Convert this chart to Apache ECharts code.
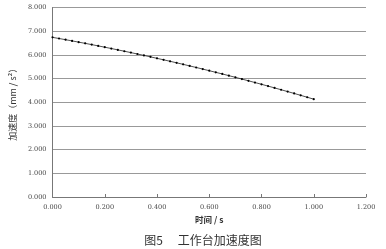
<!DOCTYPE html>
<html><head><meta charset="utf-8">
<script src="https://cdn.jsdelivr.net/npm/echarts@6/dist/echarts.min.js"></script>
<style>html,body{margin:0;padding:0;background:#fff;}#c{width:386px;height:249px;}</style>
</head><body><div id="c"></div>
<script>
var times = [0,0.025,0.05,0.075,0.1,0.125,0.15,0.175,0.2,0.225,0.25,0.275,0.3,0.325,0.35,0.375,0.4,0.425,0.45,0.475,0.5,0.525,0.55,0.575,0.6,0.625,0.65,0.675,0.7,0.725,0.75,0.775,0.8,0.825,0.85,0.875,0.9,0.925,0.95,0.975,1.0];
var accel = [6.740,6.691,6.641,6.590,6.538,6.486,6.433,6.378,6.324,6.268,6.211,6.154,6.096,6.036,5.977,5.916,5.854,5.792,5.729,5.665,5.600,5.534,5.468,5.400,5.332,5.263,5.194,5.123,5.052,4.979,4.906,4.832,4.758,4.682,4.606,4.528,4.450,4.372,4.292,4.211,4.130];
var xTicks = {min:0, max:1.2, interval:0.2};
var yTicks = {min:0, max:8, interval:1};
var xName = '时间 / s';
var yName = '加速度（mm / s²）';
var caption = '图5　 工作台加速度图';

var chart = echarts.init(document.getElementById('c'), null, {renderer:'canvas'});
var pts = times.map(function(t,i){return [t, accel[i]];});
var tickFont = {fontFamily:'DejaVu Serif', fontSize:6.5, color:'#444'};
chart.setOption({
  animation:false,
  backgroundColor:'#fff',
  title:{text:caption, left:198, top:229, textAlign:'center',
    textStyle:{fontFamily:'Noto Sans CJK SC', fontSize:12, fontWeight:'normal', color:'#333'}},
  grid:{left:52, right:20, top:7.5, bottom:52},
  xAxis:{type:'value', min:xTicks.min, max:xTicks.max, interval:xTicks.interval,
    name:xName, nameLocation:'middle', nameGap:19,
    nameTextStyle:{fontFamily:'Noto Sans CJK SC', fontSize:8.5, fontWeight:'bold', color:'#333', padding:[0,0,0,0]},
    axisLine:{lineStyle:{color:'#777', width:1}},
    axisTick:{show:true, inside:true, length:3, lineStyle:{color:'#777'}},
    splitLine:{show:false},
    axisLabel:Object.assign({margin:7, formatter:function(v){return v.toFixed(3);}}, tickFont)},
  yAxis:{type:'value', min:yTicks.min, max:yTicks.max, interval:yTicks.interval,
    name:yName, nameLocation:'middle', nameGap:34, nameRotate:90,
    nameTextStyle:{fontFamily:'Noto Sans CJK SC', fontSize:9, color:'#333'},
    axisLine:{show:true, lineStyle:{color:'#777', width:1}},
    axisTick:{show:false},
    splitLine:{lineStyle:{color:'#999', width:1}},
    axisLabel:Object.assign({margin:6, formatter:function(v){return v.toFixed(3);}}, tickFont)},
  series:[{type:'line', data:pts, symbol:'circle', symbolSize:2.2,
    itemStyle:{color:'#000'}, lineStyle:{color:'#222', width:0.8}}]
});
</script></body></html>
